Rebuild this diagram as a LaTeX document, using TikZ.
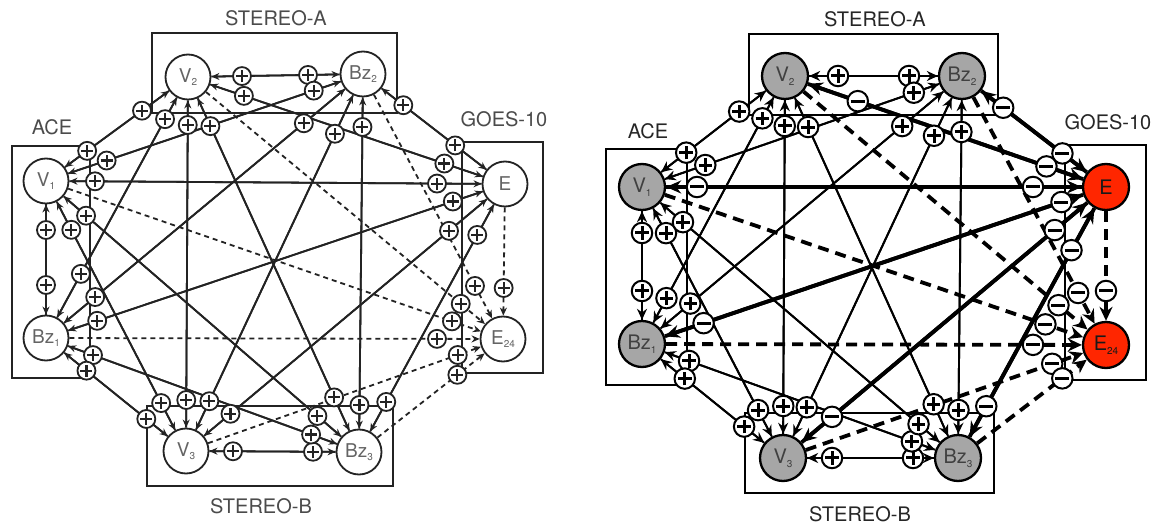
\documentclass[tikz,border=0pt]{standalone}
\usepackage{fontspec}
\setmainfont{TeX Gyre Heros}
\usetikzlibrary{calc,arrows.meta}
\definecolor{ngrey}{RGB}{166,166,166}
\definecolor{ered}{RGB}{255,38,0}
\definecolor{lline}{RGB}{35,35,35}
\definecolor{ltext}{RGB}{100,100,100}
\newcommand\mysub[1]{\raisebox{-0.35ex}{\fontsize{10}{10}\selectfont #1}}
\tikzset{
  rnode/.style={circle,draw=black,line width=2.3pt,fill=ngrey,minimum size=46pt,inner sep=0pt,text=black!75,font=\fontsize{20}{20}\selectfont},
  rred/.style={rnode,fill=ered,text=black!90},
  lnode/.style={circle,draw=lline,line width=1.8pt,fill=white,minimum size=45pt,inner sep=0pt,text=ltext,font=\fontsize{19}{19}\selectfont},
  rbox/.style={draw=black,line width=2.3pt},
  lbox/.style={draw=lline,line width=2.2pt},
  rttl/.style={text=black!85,font=\fontsize{20}{20}\selectfont},
  lttl/.style={text=ltext!75!black,font=\fontsize{20}{20}\selectfont},
  rP/.style={draw=black,line width=1.9pt,-{Stealth[length=11pt,width=10pt]}},
  rM/.style={draw=black,line width=3.8pt,-{Stealth[length=15pt,width=13pt]}},
  rD/.style={draw=black,line width=3.8pt,dash pattern=on 11pt off 7pt,-{Stealth[length=14pt,width=13pt]}},
  lP/.style={draw=lline,line width=1.8pt,-{Stealth[length=8pt,width=7pt]}},
  lM/.style={lP},
  lD/.style={draw=lline,line width=1.8pt,dash pattern=on 5pt off 4pt,-{Stealth[length=8pt,width=7pt]}},
  rlblbase/.style={circle,draw=black,fill=white,line width=2pt,minimum size=20.5pt,inner sep=0pt},
  rlblP/.style={rlblbase,path picture={\draw[line width=3pt,black]
     ([xshift=-6.8pt]path picture bounding box.center)--([xshift=6.8pt]path picture bounding box.center)
     ([yshift=-6.8pt]path picture bounding box.center)--([yshift=6.8pt]path picture bounding box.center);}},
  rlblM/.style={rlblbase,path picture={\draw[line width=3pt,black]
     ([xshift=-7pt]path picture bounding box.center)--([xshift=7pt]path picture bounding box.center);}},
  rlblD/.style={rlblM},
  llblP/.style={circle,draw=lline,fill=white,line width=1.8pt,minimum size=18pt,inner sep=0pt,
     path picture={\draw[line width=2.1pt,lline]
     ([xshift=-6pt]path picture bounding box.center)--([xshift=6pt]path picture bounding box.center)
     ([yshift=-6pt]path picture bounding box.center)--([yshift=6pt]path picture bounding box.center);}},
  llblM/.style={llblP},
  llblD/.style={llblP}
}
\begin{document}
\begin{tikzpicture}[x=1pt,y=-1pt]
\useasboundingbox[fill=white] (0,0) rectangle (1160,526);
% ---------- boxes ----------
\draw[lbox] (152,33) rectangle (397,113);
\draw[lbox] (12,146) rectangle (90,378);
\draw[lbox] (462,142) rectangle (543,373);
\draw[lbox] (147,406) rectangle (393,486);
\draw[rbox] (749,34) rectangle (998,115);
\draw[rbox] (606,149) rectangle (687,385);
\draw[rbox] (1065,145) rectangle (1146,380);
\draw[rbox] (745,413) rectangle (994,493);
% ---------- titles ----------
\node[lttl] (tLA) at (276,18) {STEREO-A};
\node[lttl] (tLACE) at (52,127) {ACE};
\node[lttl] (tLG) at (504,119) {GOES-10};
\node[lttl] (tLB) at (261,506) {STEREO-B};
\node[rttl] (tRA) at (875,19) {STEREO-A};
\node[rttl] (tRACE) at (648,131) {ACE};
\node[rttl] (tRG) at (1108,122) {GOES-10};
\node[rttl] (tRB) at (860,514) {STEREO-B};
% ---------- nodes ----------
\node[lnode] (LV1) at (46,181) {V\mysub{1}};
\node[lnode] (LV2) at (188,77) {V\mysub{2}};
\node[lnode] (LBz2) at (363,74) {Bz\mysub{2}};
\node[lnode] (LE) at (505,184) {E};
\node[lnode] (LE24) at (503,339) {E\mysub{24}};
\node[lnode] (LBz3) at (359,452) {Bz\mysub{3}};
\node[lnode] (LV3) at (186,451) {V\mysub{3}};
\node[lnode] (LBz1) at (46,338) {Bz\mysub{1}};
\node[rnode] (RV1) at (642,187) {V\mysub{1}};
\node[rnode] (RV2) at (785,76) {V\mysub{2}};
\node[rnode] (RBz2) at (962,76) {Bz\mysub{2}};
\node[rred] (RE) at (1106,187) {E};
\node[rred] (RE24) at (1106,345) {E\mysub{24}};
\node[rnode] (RBz3) at (958,458) {Bz\mysub{3}};
\node[rnode] (RV3) at (783,458) {V\mysub{3}};
\node[rnode] (RBz1) at (642,344) {Bz\mysub{1}};
% ---------- edges ----------
\def\edgelist{Bz2/V2/53/54/P, E/V2/77/59/M, V1/V2/58/57/P, Bz1/V2/48/48/P, V3/V2/50/48/P, Bz3/V2/56/54/P,
V2/Bz2/53/55/P, V1/Bz2/51/52/P, Bz1/Bz2/78/77/P, V3/Bz2/66/66/P, Bz3/Bz2/56/53/P, E/Bz2/52/51/M,
Bz2/E/55/63/M, V2/E/63/64/M, V1/E/73/68/M, Bz1/E/47/55/M, V3/E/67/73/M, Bz3/E/72/58/M,
E/E24/54/51/D, Bz2/E24/59/60/D, V2/E24/62/55/D, V1/E24/64/54/D, Bz1/E24/73/66/D, V3/E24/57/48/D, Bz3/E24/55/58/D,
V3/Bz3/45/46/P, Bz1/Bz3/49/51/P, V1/Bz3/52/55/P, V2/Bz3/59/60/P, Bz2/Bz3/48/47/P, E/Bz3/59/57/M,
Bz3/V3/49/47/P, E/V3/64/58/M, Bz2/V3/56/55/P, V2/V3/52/51/P, V1/V3/54/54/P, Bz1/V3/50/51/P,
V1/Bz1/53/53/P, V2/Bz1/52/73/P, Bz2/Bz1/63/64/P, E/Bz1/65/54/M, Bz3/Bz1/50/50/P, V3/Bz1/55/52/P,
Bz1/V1/46/49/P, V3/V1/52/55/P, Bz3/V1/54/53/P, E/V1/55/49/M, Bz2/V1/67/64/P, V2/V1/56/51/P}
\foreach \a/\b/\dr/\dl/\t in \edgelist {
  \draw[r\t] (R\a) -- (R\b);
  \draw[l\t] (L\a) -- (L\b);
}
\foreach \a/\b/\dr/\dl/\t in \edgelist {
  \node[rlbl\t] (rl-\a-\b) at ($(R\b)!\dr pt!(R\a)$) {};
  \node[llbl\t] (ll-\a-\b) at ($(L\b)!\dl pt!(L\a)$) {};
}
\end{tikzpicture}
\end{document}
